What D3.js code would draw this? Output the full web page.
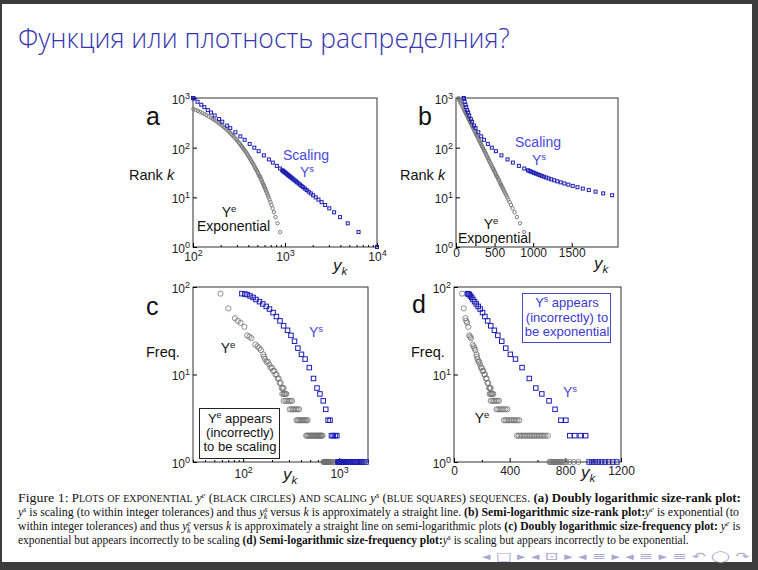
<!DOCTYPE html>
<html>
<head>
<meta charset="utf-8">
<script src="https://d3js.org/d3.v7.min.js"></script>
<style>
  body { margin: 0; background: #fff; }
  text { font-family: "Liberation Sans", Arial, sans-serif; }
</style>
</head>
<body>
<svg id="slide" width="758" height="570"></svg>
<script>
// Slide title and caption
var titleText = 'Функция или плотность распределния?';

// Rank data: [y_k, rank k]
var expRank = [
  [31,1000],[38,950],[45,900],[53,850],[61,800],[70,750],[80,700],[90,650],[101,600],[107,575],
  [113,550],[119,525],[126,500],[133,475],[140,450],[148,425],[157,400],[164,380],[171,360],[179,340],
  [187,320],[194,305],[201,290],[208,275],[216,260],[224,245],[233,230],[242,215],[252,200],[259,190],
  [266,180],[274,170],[283,160],[292,150],[301,140],[309,132],[317,125],[325,118],[334,110],[340,105],
  [347,100],[354,95],[362,90],[370,85],[378,80],[387,75],[396,70],[404,66],[413,62],[421,58],
  [429,55],[438,51],[448,48],[457,45],[466,42],[475,39],[484,37],[492,35],[500,33],[508,31],
  [517,29],[526,27],[532,26],[540,25],[549,23],[558,22],[568,20],[575,19],[583,18],[591,17],
  [599,16],[608,15],[618,14],[628,13],[639,12],[651,11],[664,10],[678,9],[695,8],[713,7],
  [734,6],[759,5],[790,4],[829,3],[885,2]
];
var scaleRank = [
  [100,1000],[102,977],[112,841],[123,733],[133,654],[145,570],[157,510],[172,444],[192,376],[208,333],
  [235,278],[254,247],[289,204],[327,169],[364,144],[413,119],[464,100],[517,85],[589,70],[668,58],
  [737,50],[815,43],[885,38],[933,35],[952,34],[971,33],[992,32],[1014,31],[1036,30],[1060,29],
  [1085,28],[1111,27],[1140,26],[1170,25],[1201,24],[1235,23],[1273,22],[1313,21],[1357,20],[1405,19],
  [1456,18],[1513,17],[1575,16],[1644,15],[1721,14],[1809,13],[1908,12],[2024,11],[2154,10],[2311,9],
  [2500,8],[2733,7],[3029,6],[3420,5],[3969,4],[4807,3],[6300,2],[10000,1]
];

// Frequency data: [y_k, frequency]
var expFreq = [
  [58,84],[70,57],[82,44],[88,41],[94,39],[103,35],[110,28],[116,27],[122,26],[134,22],
  [141,21],[147,20],[153,19],[162,17],[165,16],[169,15],[175,14],[181,14],[187,13],[193,12],
  [199,12],[205,11],[211,11],[217,10],[223,10],[229,9],[235,9],[240,8],[246,8],[252,7],
  [258,7],[264,7],[256,6],[264,6],[270,6],[276,6],[282,6],
  [264,5],[276,5],[288,5],[300,5],[312,5],[323,5],
  [305,4],[318,4],[330,4],[343,4],[356,4],[370,4],[383,4],
  [359,3],[371,3],[383,3],[395,3],[407,3],[419,3],[431,3],[443,3],[456,3],[469,3],
  [453,2],[465,2],[477,2],[489,2],[501,2],[513,2],[525,2],[537,2],[549,2],[561,2],
  [573,2],[585,2],[597,2],[609,2],[621,2],[633,2],[645,2],[657,2],[674,2],
  [686,1],[694,1],[702,1],[710,1],[718,1],[726,1],[734,1],[742,1],[750,1],[758,1],
  [766,1],[776,1],[790,1],[806,1],[830,1],[860,1],[894,1]
];
var scaleFreq = [
  [97,84],[104,83],[110,82],[118,79],[127,76],[136,72],[148,68],[160,64],[174,60],[188,56],
  [205,51],[222,46],[242,41],[264,36],[290,32],[315,28],[343,24],[372,20],[405,17],[442,15],
  [489,12],[541,9],[588,7],[631,6],[683,5],[726,4],[768,3],[804,3],[832,2],[868,2],
  [908,2],[946,2],
  [971,1],[992,1],[1014,1],[1036,1],[1060,1],[1085,1],[1111,1],[1140,1],[1170,1],[1201,1],
  [1235,1],[1273,1],[1313,1],[1357,1],[1405,1],[1456,1],[1513,1],[1575,1],[1644,1],[1721,1],
  [1809,1],[1908,1]
];

// Ticks
var rankTicks = [1, 10, 100, 1000];
var freqTicks = [1, 10, 100];
var aTicks = [100, 1000, 10000];
var bTicks = [0, 500, 1000, 1500];
var cTicks = [100, 1000];
var dTicks = [0, 400, 800, 1200];
var dMinor = [200, 600, 1000];

var svg = d3.select('#slide');
var BLUE = '#1c1cb4';
var LBLUE = '#4848e0';

// frame of the slide
svg.append('rect').attr('width', 758).attr('height', 570).attr('fill', '#3c3c3c');
svg.append('rect').attr('x', 2).attr('y', 4).attr('width', 750).attr('height', 558).attr('fill', '#fff');

// squeeze a text into a given width
function fitWidth(sel, x0, w) {
  var bw = sel.node().getBBox().width;
  sel.attr('transform', 'translate(' + x0 + ',0) scale(' + (w / bw) + ',1) translate(' + (-x0) + ',0)');
}

// text with italic / sup / sub / bold / small caps parts
function rich(parent, x, y, parts, size, color, anchor) {
  var t = parent.append('text').attr('x', x).attr('y', y)
    .attr('font-size', size).attr('fill', color).attr('text-anchor', anchor || 'start');
  var shift = 0;
  parts.forEach(function(p) {
    var f = p[1] || '';
    var target = 0, fs = p[2] || size;
    if (f.indexOf('^') >= 0) { target = -0.35 * size; fs = size * 0.68; }
    if (f.indexOf('_') >= 0) { target = 0.25 * size; fs = size * 0.68; }
    // small caps: lower case letters become smaller capitals
    var runs = [[p[0], fs]];
    if (f.indexOf('c') >= 0) {
      runs = p[0].match(/[a-z]+|[^a-z]+/g).map(function(r) {
        return /[a-z]/.test(r) ? [r.toUpperCase(), fs * 0.78] : [r, fs];
      });
    }
    runs.forEach(function(r, j) {
      var s = t.append('tspan').text(r[0]).attr('font-size', r[1]);
      if (j === 0) {
        if (target !== shift) { s.attr('dy', target - shift); shift = target; }
        if (f.indexOf('k') >= 0) s.attr('dx', -size * 0.34);
      }
      if (f.indexOf('i') >= 0) s.attr('font-style', 'italic');
      if (f.indexOf('b') >= 0) s.attr('font-weight', 'bold');
    });
  });
  return t;
}

// title
var title = svg.append('text').attr('x', 18).attr('y', 48)
  .style('font-family', '"Open Sans", "DejaVu Sans", sans-serif')
  .attr('font-weight', 300).attr('font-size', 28).attr('fill', '#3535b0').text(titleText);
fitWidth(title, 18, 492);

function supLabel(sel, v) {
  var e = Math.round(Math.log10(v));
  sel.text('10').append('tspan').attr('dy', '-0.55em').attr('font-size', '9px').text(e);
}

function drawPanel(p) {
  var g = svg.append('g');
  var x = (p.xlog ? d3.scaleLog() : d3.scaleLinear()).domain(p.xdom).range([p.left, p.right]);
  var y = d3.scaleLog().domain(p.ydom).range([p.bottom, p.top]);

  g.append('rect').attr('x', p.left).attr('y', p.top)
    .attr('width', p.right - p.left).attr('height', p.bottom - p.top)
    .attr('fill', 'none').attr('stroke', '#333').attr('stroke-width', 1);

  var xa = d3.axisBottom(x).tickValues(p.xticks).tickSizeInner(-4).tickSizeOuter(0)
    .tickPadding(p.xpad).tickFormat(d3.format('d'));
  var gx = g.append('g').attr('transform', 'translate(0,' + p.bottom + ')').call(xa);
  gx.select('.domain').remove();
  gx.selectAll('text').attr('font-size', 12).attr('fill', '#222')
    .style('font-family', '"Liberation Sans", Arial, sans-serif');
  if (p.xlog) gx.selectAll('text').each(function(d) { supLabel(d3.select(this), d); });

  var minor = p.minor;
  if (p.xlog) {
    minor = [];
    x.ticks().forEach(function(v) {
      var m = v / Math.pow(10, Math.floor(Math.log10(v) + 1e-9));
      if (Math.abs(m - 1) > 1e-6) minor.push(v);
    });
  }
  if (minor) {
    var gm = g.append('g').attr('transform', 'translate(0,' + p.bottom + ')')
      .call(d3.axisBottom(x).tickValues(minor).tickSizeInner(-2).tickSizeOuter(0).tickFormat(''));
    gm.select('.domain').remove();
  }

  var ya = d3.axisLeft(y).tickValues(p.yticks).tickSizeInner(-4).tickSizeOuter(0).tickPadding(3);
  var gy = g.append('g').attr('transform', 'translate(' + p.left + ',0)').call(ya);
  gy.select('.domain').remove();
  gy.selectAll('text').attr('font-size', 12).attr('fill', '#222').attr('dy', '0.45em')
    .style('font-family', '"Liberation Sans", Arial, sans-serif')
    .each(function(d) { supLabel(d3.select(this), d); });

  var cid = 'clip-' + p.name;
  svg.append('clipPath').attr('id', cid).append('rect')
    .attr('x', p.left - 3).attr('y', p.top - 3)
    .attr('width', p.right - p.left + 6).attr('height', p.bottom - p.top + 6);
  var marks = g.append('g').attr('clip-path', 'url(#' + cid + ')');
  var inside = function(d) {
    return d[0] >= p.xdom[0] && d[0] <= p.xdom[1] && d[1] >= p.ydom[0] && d[1] <= p.ydom[1];
  };

  marks.selectAll('circle').data(p.ye.filter(inside)).enter().append('circle')
    .attr('cx', function(d) { return x(d[0]); })
    .attr('cy', function(d) { return y(d[1]); })
    .attr('r', p.r).attr('fill', 'none').attr('stroke', p.grey).attr('stroke-width', p.sw);

  marks.selectAll('rect.sq').data(p.ys.filter(inside)).enter().append('rect').attr('class', 'sq')
    .attr('x', function(d) { return x(d[0]) - p.sq / 2; })
    .attr('y', function(d) { return y(d[1]) - p.sq / 2; })
    .attr('width', p.sq).attr('height', p.sq)
    .attr('fill', 'none').attr('stroke', BLUE).attr('stroke-width', 1);
  return g;
}

drawPanel({name: 'a', left: 193, right: 377, top: 98, bottom: 247, xlog: true,
  xdom: [100, 10000], xticks: aTicks, xpad: 5, ydom: [1, 1000], yticks: rankTicks,
  ye: expRank, ys: scaleRank, r: 1.7, sw: 1, sq: 3, grey: '#7c7c7c'});
drawPanel({name: 'b', left: 456, right: 618, top: 98, bottom: 247, xlog: false,
  xdom: [0, 2100], xticks: bTicks, xpad: 1.5, ydom: [1, 1000], yticks: rankTicks,
  ye: expRank, ys: scaleRank, r: 1.7, sw: 1, sq: 3, grey: '#7c7c7c'});
drawPanel({name: 'c', left: 193, right: 368, top: 287, bottom: 462, xlog: true,
  xdom: [30, 2000], xticks: cTicks, xpad: 7.5, ydom: [1, 100], yticks: freqTicks,
  ye: expFreq, ys: scaleFreq, r: 2.6, sw: 0.8, sq: 4.5, grey: '#707070'});
drawPanel({name: 'd', left: 454, right: 621, top: 287, bottom: 462, xlog: false,
  xdom: [0, 1200], xticks: dTicks, minor: dMinor, xpad: 4.5, ydom: [1, 100], yticks: freqTicks,
  ye: expFreq, ys: scaleFreq, r: 2.6, sw: 0.8, sq: 4.5, grey: '#707070'});

// panel letters and axis names
[['a', 146, 125], ['b', 418, 125], ['c', 146, 315], ['d', 412, 313]].forEach(function(l) {
  svg.append('text').attr('x', l[1]).attr('y', l[2]).attr('font-size', 25).attr('fill', '#111').text(l[0]);
});
rich(svg, 129, 180, [['Rank '], ['k', 'i']], 14.5, '#111');
rich(svg, 400, 180, [['Rank '], ['k', 'i']], 14.5, '#111');
rich(svg, 146, 357, [['Freq.']], 14.5, '#111');
rich(svg, 411, 357, [['Freq.']], 14.5, '#111');
rich(svg, 333, 271, [['y', 'i'], ['k', '_i']], 17, '#222');
rich(svg, 594, 269, [['y', 'i'], ['k', '_i']], 17, '#222');
rich(svg, 283, 480, [['y', 'i'], ['k', '_i']], 17, '#222');
rich(svg, 581, 478, [['y', 'i'], ['k', '_i']], 17, '#222');

// annotations
rich(svg, 306, 160, [['Scaling']], 14, LBLUE, 'middle');
rich(svg, 307, 177, [['Y'], ['s', '^']], 14, LBLUE, 'middle');
rich(svg, 229, 217, [['Y'], ['e', '^']], 14, '#111', 'middle');
rich(svg, 197, 231, [['Exponential']], 14, '#111');

rich(svg, 538, 147, [['Scaling']], 14, LBLUE, 'middle');
rich(svg, 539, 165, [['Y'], ['s', '^']], 14, LBLUE, 'middle');
rich(svg, 491, 229, [['Y'], ['e', '^']], 14, '#111', 'middle');
rich(svg, 458, 243, [['Exponential']], 14, '#111');

rich(svg, 228, 353, [['Y'], ['e', '^']], 14, '#111', 'middle');
rich(svg, 316, 337, [['Y'], ['s', '^']], 14, LBLUE, 'middle');
svg.append('rect').attr('x', 199.5).attr('y', 408.5).attr('width', 80).attr('height', 50)
  .attr('fill', '#fff').attr('stroke', '#222').attr('stroke-width', 1);
rich(svg, 240, 423, [['Y'], ['e', '^'], [' appears']], 13, '#111', 'middle');
rich(svg, 240, 437, [['(incorrectly)']], 13, '#111', 'middle');
rich(svg, 240, 451, [['to be scaling']], 13, '#111', 'middle');

rich(svg, 570, 397, [['Y'], ['s', '^']], 14, LBLUE, 'middle');
rich(svg, 482, 423, [['Y'], ['e', '^']], 14, '#111', 'middle');
svg.append('rect').attr('x', 522.5).attr('y', 293.5).attr('width', 88).attr('height', 49)
  .attr('fill', '#fff').attr('stroke', '#4a4ac8').attr('stroke-width', 1);
rich(svg, 567, 307, [['Y'], ['s', '^'], [' appears']], 13, '#3a3ad0', 'middle');
rich(svg, 567, 321.5, [['(incorrectly) to']], 13, '#3a3ad0', 'middle');
rich(svg, 567, 336, [['be exponential']], 13, '#3a3ad0', 'middle');

// caption
var cap = svg.append('g');
var capLines = [
  [[['Figure 1:', '', 13], ['  '], ['Plots of exponential ', 'c'], ['y', 'i'], ['e', '^i'],
    [' (black circles) and scaling ', 'c'], ['y', 'i'], ['s', '^i'], [' (blue squares) sequences. ', 'c'],
    ['(a) Doubly logarithmic size-rank plot:', 'b']], 741],
  [[['y', 'i'], ['s', '^i'], [' is scaling (to within integer tolerances) and thus '], ['y', 'i'], ['s', '^i'],
    ['k', '_ik'], [' versus '], ['k', 'i'], [' is approximately a straight line. '],
    ['(b) Semi-logarithmic size-rank plot:', 'b'], ['y', 'i'], ['e', '^i'], [' is exponential (to']], 741],
  [[['within integer tolerances) and thus '], ['y', 'i'], ['e', '^i'], ['k', '_ik'], [' versus '], ['k', 'i'],
    [' is approximately a straight line on semi-logarithmic plots '],
    ['(c) Doubly logarithmic size-frequency plot:', 'b'], [' '], ['y', 'i'], ['e', '^i'], [' is']], 741],
  [[['exponential but appears incorrectly to be scaling '], ['(d) Semi-logarithmic size-frequency plot:', 'b'],
    ['y', 'i'], ['s', '^i'], [' is scaling but appears incorrectly to be exponential.']], 689]
];
capLines.forEach(function(l, i) {
  var t = rich(cap, 18, 502 + i * 14, l[0], 12, '#111');
  t.style('font-family', '"Liberation Serif", "Times New Roman", serif');
  fitWidth(t, 18, l[1] - 18);
});

// navigation symbols
var nav = svg.append('text').attr('x', 482).attr('y', 560).attr('font-size', 11)
  .style('font-family', '"DejaVu Sans", sans-serif').attr('fill', '#a8a8d0')
  .text('◂ □ ▸  ◂ ⊡ ▸  ◂ ≡ ▸  ◂ ≡ ▸    ≡    ↶ ◯ ↷');
fitWidth(nav, 482, 268);
</script>
</body>
</html>
